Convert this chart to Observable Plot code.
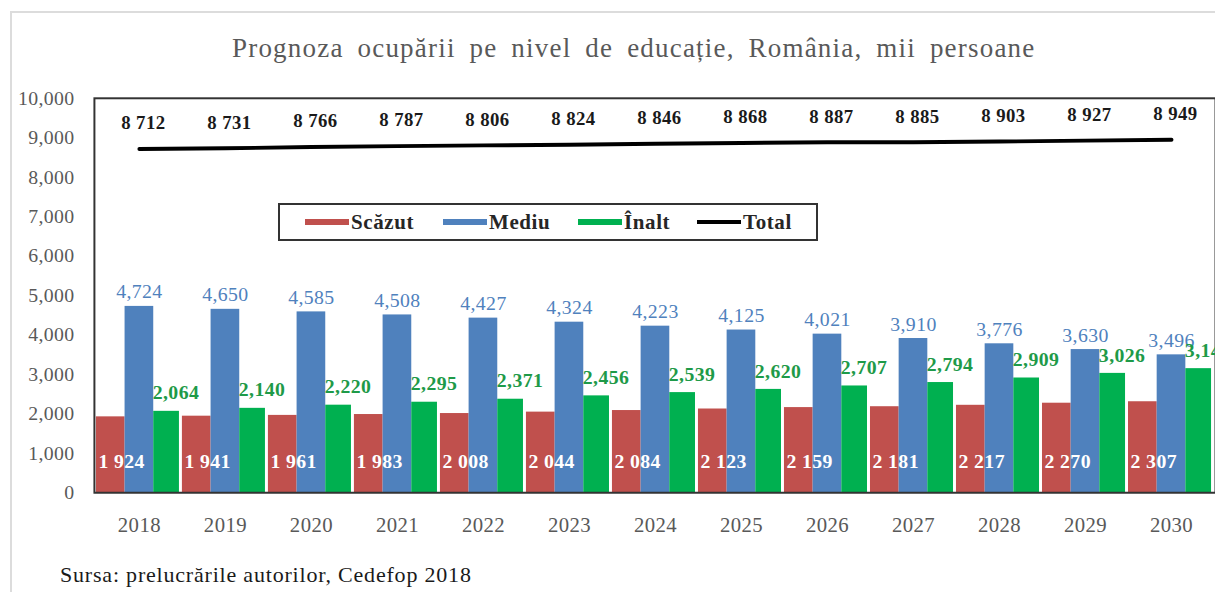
<!DOCTYPE html>
<html>
<head>
<meta charset="utf-8">
<script src="https://cdn.jsdelivr.net/npm/d3@7"></script>
<script src="https://cdn.jsdelivr.net/npm/@observablehq/plot@0.6"></script>
<style>
  html, body { margin: 0; padding: 0; background: #fff; overflow: hidden; width: 1215px; height: 592px; }
  #page { position: relative; width: 1215px; height: 592px; overflow: hidden; font-family: "Liberation Serif", "DejaVu Serif", serif; }
  #outer { position: absolute; left: 10px; top: 11px; width: 1300px; height: 700px; border: 2px solid #dcdcdc; box-sizing: border-box; }
  #title { position: absolute; left: 232px; top: 33px; font-size: 27px; color: #595959; white-space: nowrap; letter-spacing: 1.2px; word-spacing: 6px; }
  #chart { position: absolute; left: 0; top: 80px; }
  #chart svg text { letter-spacing: 0.4px; }
  #legend { position: absolute; left: 278px; top: 203px; width: 540px; height: 38px; border: 2px solid #333; box-sizing: border-box; background: #fff; }
  .item { position: absolute; top: 0; height: 34px; display: flex; align-items: center; font-weight: bold; font-size: 21px; letter-spacing: 0.6px; color: #262626; }
  .sw { width: 44px; height: 6px; margin-right: 2px; }
  #caption { position: absolute; left: 60px; top: 562px; font-size: 22px; letter-spacing: 0.8px; color: #1a1a1a; white-space: nowrap; }
</style>
</head>
<body>
<div id="page">
  <div id="outer"></div>
  <div id="title">Prognoza ocupării pe nivel de educație, România, mii persoane</div>
  <div id="chart"></div>
  <div id="legend"></div>
  <div id="caption">Sursa: prelucrările autorilor, Cedefop 2018</div>
</div>
<script>
// ---- data ----
const years = [2018, 2019, 2020, 2021, 2022, 2023, 2024, 2025, 2026, 2027, 2028, 2029, 2030];
const seriesNames = ["Scăzut", "Mediu", "Înalt"];
const scazut = [1924, 1941, 1961, 1983, 2008, 2044, 2084, 2123, 2159, 2181, 2217, 2270, 2307];
const mediu  = [4724, 4650, 4585, 4508, 4427, 4324, 4223, 4125, 4021, 3910, 3776, 3630, 3496];
const inalt  = [2064, 2140, 2220, 2295, 2371, 2456, 2539, 2620, 2707, 2794, 2909, 3026, 3146];
const total  = [8712, 8731, 8766, 8787, 8806, 8824, 8846, 8868, 8887, 8885, 8903, 8927, 8949];
const yTicks = [0, 1000, 2000, 3000, 4000, 5000, 6000, 7000, 8000, 9000, 10000];
const colors = {"Scăzut": "#c0504d", "Mediu": "#4f81bd", "Înalt": "#00b050", "Total": "#000000"};

// ---- derived tables ----
const key = (y, s) => `${y}|${s}`;
const domain = years.flatMap(y => seriesNames.map(s => key(y, s)));
const rowsOf = (vals, s) => years.map((y, i) => ({year: y, key: key(y, s), value: vals[i]}));
const rScazut = rowsOf(scazut, "Scăzut");
const rMediu = rowsOf(mediu, "Mediu");
const rInalt = rowsOf(inalt, "Înalt");
const rTotal = rowsOf(total, "Mediu");

const fmtComma = d3.format(",");
const fmtSpace = d3.formatLocale({decimal: ".", thousands: " ", grouping: [3], currency: ["", ""]}).format(",");

const chart = Plot.plot({
  width: 1229,
  height: 462,
  marginLeft: 95,
  marginRight: 0,
  marginTop: 18,
  marginBottom: 45,
  style: {fontFamily: "'Liberation Serif', serif", fontSize: "20px", color: "#595959", background: "transparent"},
  x: {type: "band", domain, padding: 0, label: null, axis: null},
  y: {domain: [0, 10000], label: null, axis: null},
  marks: [
    Plot.axisY({ticks: yTicks, tickFormat: fmtComma, tickSize: 0, tickPadding: 20, label: null, fontSize: 20, fill: "#595959"}),
    Plot.axisX({ticks: years.map(y => key(y, "Mediu")), tickFormat: d => d.split("|")[0], tickSize: 0, tickPadding: 25, label: null, fontSize: 21, fill: "#595959"}),
    Plot.barY(rScazut, {x: "key", y: "value", fill: colors["Scăzut"]}),
    Plot.barY(rMediu, {x: "key", y: "value", fill: colors["Mediu"]}),
    Plot.barY(rInalt, {x: "key", y: "value", fill: colors["Înalt"], insetRight: 3}),
    Plot.ruleY([0], {stroke: "#d9d9d9", strokeWidth: 1}),
    Plot.frame({stroke: "#333", strokeWidth: 2}),
    Plot.line(rTotal, {x: "key", y: "value", stroke: colors["Total"], strokeWidth: 4}),
    Plot.text(rTotal, {x: "key", y: "value", text: d => fmtSpace(d.value), fontWeight: "bold", fill: "#1a1a1a", fontSize: 19, lineAnchor: "middle", dy: -26, dx: 4}),
    Plot.text(rMediu, {x: "key", y: "value", text: d => fmtComma(d.value), fill: "#4f81bd", fontSize: 20, lineAnchor: "bottom", dy: -8}),
    Plot.text(rInalt, {x: "key", y: "value", text: d => fmtComma(d.value), fill: "#1e9a48", fontWeight: "bold", fontSize: 20, lineAnchor: "bottom", dy: -12, dx: 8}),
    Plot.text(rScazut, {x: "key", frameAnchor: "bottom", text: d => fmtSpace(d.value), fill: "white", fontWeight: "bold", fontSize: 20, lineAnchor: "bottom", dy: -25, dx: 11})
  ]
});
document.getElementById("chart").appendChild(chart);

// ---- legend (HTML overlay inside plot area) ----
const legendItems = [
  {name: "Scăzut", left: 25, h: 6},
  {name: "Mediu", left: 163, h: 6},
  {name: "Înalt", left: 298, h: 6},
  {name: "Total", left: 417, h: 4}
];
const legend = document.getElementById("legend");
for (const it of legendItems) {
  const div = document.createElement("div");
  div.className = "item";
  div.style.left = it.left + "px";
  const sw = document.createElement("span");
  sw.className = "sw";
  sw.style.background = colors[it.name];
  sw.style.height = it.h + "px";
  const tx = document.createElement("span");
  tx.textContent = it.name;
  div.appendChild(sw);
  div.appendChild(tx);
  legend.appendChild(div);
}
</script>
</body>
</html>
